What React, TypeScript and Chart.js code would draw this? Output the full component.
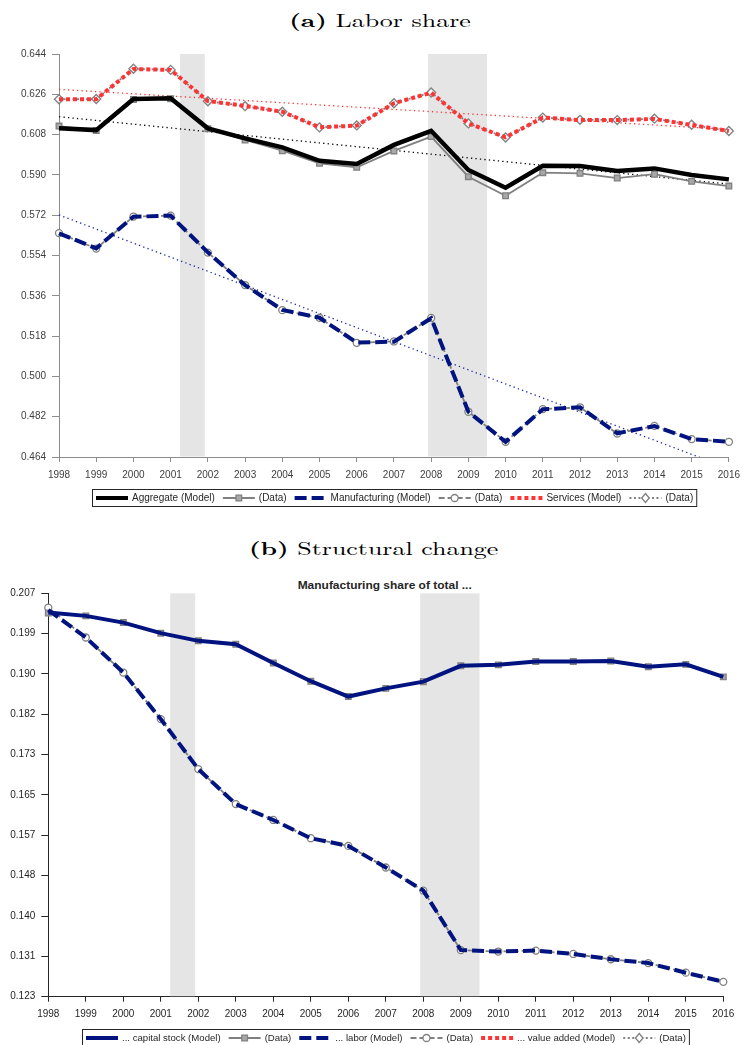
import React, { useEffect, useRef } from 'react';
import { Chart, registerables } from 'chart.js';

Chart.register(...registerables);

// ---------- data ----------
const years = [1998, 1999, 2000, 2001, 2002, 2003, 2004, 2005, 2006, 2007, 2008, 2009, 2010, 2011, 2012, 2013, 2014, 2015, 2016];

// (a) Labor share
const aggModel = [0.6108, 0.6100, 0.6239, 0.6242, 0.6108, 0.6063, 0.6023, 0.5963, 0.5949, 0.6034, 0.6097, 0.5922, 0.5843, 0.5941, 0.5940, 0.5917, 0.5929, 0.5900, 0.5880];
const aggData = [0.6118, 0.6098, 0.6237, 0.6240, 0.6106, 0.6056, 0.6008, 0.5952, 0.5934, 0.6007, 0.6071, 0.5892, 0.5807, 0.5910, 0.5907, 0.5886, 0.5903, 0.5871, 0.5850];
const manModel = [0.5639, 0.5572, 0.5713, 0.5718, 0.5554, 0.5408, 0.5297, 0.5262, 0.5151, 0.5155, 0.5260, 0.4842, 0.4708, 0.4853, 0.4862, 0.4746, 0.4778, 0.4720, 0.4708];
const manData = [0.5640, 0.5571, 0.5714, 0.5718, 0.5553, 0.5408, 0.5296, 0.5262, 0.5150, 0.5156, 0.5261, 0.4842, 0.4708, 0.4854, 0.4862, 0.4745, 0.4779, 0.4720, 0.4708];
const servModel = [0.6238, 0.6238, 0.6373, 0.6369, 0.6230, 0.6208, 0.6182, 0.6113, 0.6120, 0.6220, 0.6267, 0.6130, 0.6068, 0.6156, 0.6145, 0.6145, 0.6150, 0.6123, 0.6096];
const servData = [0.6238, 0.6239, 0.6374, 0.6369, 0.6229, 0.6207, 0.6182, 0.6112, 0.6121, 0.6220, 0.6268, 0.6130, 0.6067, 0.6156, 0.6146, 0.6145, 0.6151, 0.6124, 0.6096];
const trendYears = [1998, 2016];
const aggTrend = [0.6160, 0.5859];
const servTrend = [0.6282, 0.6103];
const manTrend = [0.5721, 0.4589];

// (b) Structural change
const capModel = [0.2030, 0.2023, 0.2009, 0.1987, 0.1971, 0.1964, 0.1925, 0.1887, 0.1855, 0.1872, 0.1886, 0.1919, 0.1921, 0.1928, 0.1928, 0.1929, 0.1917, 0.1922, 0.1896];
const capData = [0.2029, 0.2023, 0.2009, 0.1987, 0.1971, 0.1964, 0.1925, 0.1887, 0.1855, 0.1872, 0.1886, 0.1919, 0.1921, 0.1928, 0.1928, 0.1929, 0.1917, 0.1922, 0.1896];
const labModel = [0.2035, 0.1978, 0.1905, 0.1808, 0.1704, 0.1631, 0.1598, 0.1560, 0.1544, 0.1499, 0.1451, 0.1327, 0.1324, 0.1326, 0.1319, 0.1308, 0.1300, 0.1280, 0.1261];
const labData = [0.2040, 0.1978, 0.1905, 0.1808, 0.1704, 0.1631, 0.1598, 0.1560, 0.1544, 0.1499, 0.1451, 0.1327, 0.1324, 0.1326, 0.1319, 0.1308, 0.1300, 0.1280, 0.1261];
const vaModel: number[] = [];
const vaData: number[] = [];

// recessions (shaded)
const recessionStart = [2001.25, 2007.917];
const recessionEnd = [2001.917, 2009.5];

// ticks
const xTicks = years;
const yTicksA = [0.464, 0.482, 0.5, 0.518, 0.536, 0.554, 0.572, 0.59, 0.608, 0.626, 0.644];
const yTicksB = [0.123, 0.1314, 0.1398, 0.1482, 0.1566, 0.165, 0.1734, 0.1818, 0.1902, 0.1986, 0.207];

// ---------- styles ----------
const FONT = '"Liberation Sans", Arial, Helvetica, sans-serif';
const NAVY = '#00137f';
const RED = '#ff3333';
const GRAY = '#808080';

const pts = (xs: number[], ys: number[]) => xs.map((x, i) => ({ x, y: ys[i] }));

const shadePlugin = {
  id: 'shade',
  beforeDatasetsDraw(chart: any) {
    const { ctx, chartArea, scales } = chart;
    ctx.save();
    ctx.fillStyle = '#e5e5e5';
    recessionStart.forEach((s, i) => {
      const x0 = scales.x.getPixelForValue(s);
      const x1 = scales.x.getPixelForValue(recessionEnd[i]);
      ctx.fillRect(x0, chartArea.top, x1 - x0, chartArea.bottom - chartArea.top - 0.5);
    });
    ctx.restore();
  },
};

function drawMarker(ctx: CanvasRenderingContext2D, style: string, x: number, y: number, r: number, fill: string, stroke: string, lw: number) {
  ctx.save();
  ctx.setLineDash([]);
  ctx.fillStyle = fill;
  ctx.strokeStyle = stroke;
  ctx.lineWidth = lw;
  ctx.beginPath();
  if (style === 'rect') {
    const s = r * Math.SQRT1_2;
    ctx.rect(x - s, y - s, 2 * s, 2 * s);
  } else if (style === 'rectRot') {
    ctx.moveTo(x, y - r);
    ctx.lineTo(x + r * 0.85, y);
    ctx.lineTo(x, y + r);
    ctx.lineTo(x - r * 0.85, y);
    ctx.closePath();
  } else {
    ctx.arc(x, y, r, 0, Math.PI * 2);
  }
  ctx.fill();
  ctx.stroke();
  ctx.restore();
}

const boxLegendPlugin = {
  id: 'boxLegend',
  afterDraw(chart: any, _args: any, opts: any) {
    const { ctx, chartArea } = chart;
    const items = chart.data.datasets.filter((d: any) => d.inLegend);
    const size = opts.fontSize || 10;
    ctx.save();
    ctx.font = `${size}px ${FONT}`;
    const sampleW = opts.sampleW || 32;
    const gapS = opts.gapS || 4;
    const gapItem = opts.gapItem || 8;
    const pad = 3.5;
    const widths = items.map((d: any) => ctx.measureText(d.label).width);
    let total = pad * 2;
    widths.forEach((w: number, i: number) => {
      total += sampleW + gapS + w + (i > 0 ? gapItem : 0);
    });
    const cx = (chartArea.left + chartArea.right) / 2;
    const x0 = Math.round(cx - total / 2) + 0.5;
    const y0 = opts.top + 0.5;
    const h = 17;
    ctx.fillStyle = '#ffffff';
    ctx.fillRect(x0, y0, total, h);
    ctx.strokeStyle = '#262626';
    ctx.lineWidth = 1;
    ctx.strokeRect(x0, y0, total, h);
    const cy = y0 + h / 2;
    let x = x0 + pad;
    items.forEach((d: any, i: number) => {
      if (i > 0) x += gapItem;
      ctx.save();
      ctx.strokeStyle = d.borderColor;
      ctx.lineWidth = Math.min(d.borderWidth, 4);
      ctx.setLineDash(d.borderDash || []);
      ctx.beginPath();
      ctx.moveTo(x, cy);
      ctx.lineTo(x + sampleW, cy);
      ctx.stroke();
      ctx.restore();
      if (d.pointRadius > 0) {
        drawMarker(ctx, d.pointStyle, x + sampleW / 2, cy, d.pointRadius, d.pointBackgroundColor, d.pointBorderColor, d.pointBorderWidth);
      }
      x += sampleW + gapS;
      ctx.fillStyle = '#262626';
      ctx.textBaseline = 'middle';
      ctx.textAlign = 'left';
      ctx.fillText(d.label, x, cy + 0.5);
      x += widths[i];
    });
    ctx.restore();
  },
};

const modelLine = (label: string, data: number[], color: string, width: number, dash: number[]) => ({
  label,
  data: pts(years, data),
  borderColor: color,
  backgroundColor: color,
  borderWidth: width,
  borderDash: dash,
  pointRadius: 0,
  pointHoverRadius: 0,
  tension: 0,
  fill: false,
  order: 1,
  clip: 8,
  inLegend: true,
});

const dataLine = (data: number[], dash: number[], style: string, radius: number, fill: string) => ({
  label: '(Data)',
  data: pts(years, data),
  borderColor: GRAY,
  backgroundColor: GRAY,
  borderWidth: 1.8,
  borderDash: dash,
  pointStyle: style,
  pointRadius: radius,
  pointHoverRadius: radius,
  pointBorderColor: GRAY,
  pointBackgroundColor: fill,
  pointBorderWidth: 1.3,
  tension: 0,
  fill: false,
  order: 2,
  clip: 8,
  inLegend: true,
});

const trendLine = (data: number[], color: string) => ({
  label: 'trend',
  data: pts(trendYears, data),
  borderColor: color,
  borderWidth: 1.3,
  borderDash: [1.3, 3.2],
  pointRadius: 0,
  pointHoverRadius: 0,
  tension: 0,
  fill: false,
  order: 3,
  inLegend: false,
});

function makeOptions(yMin: number, yMax: number, yTicks: number[], yWidth: number, padding: any, axisColor: string, labelColor: string, legendTop: number, legendFont: number) {
  return {
    responsive: false,
    animation: false,
    devicePixelRatio: 1,
    layout: { padding },
    events: [],
    plugins: {
      legend: { display: false },
      tooltip: { enabled: false },
      title: { display: false },
      boxLegend: { top: legendTop, fontSize: legendFont },
    },
    scales: {
      x: {
        type: 'linear',
        min: 1998,
        max: 2016,
        afterBuildTicks: (s: any) => {
          s.ticks = xTicks.map((v) => ({ value: v }));
        },
        afterFit: (s: any) => {
          s.height = 30;
        },
        ticks: {
          callback: (v: any) => String(v),
          autoSkip: false,
          maxRotation: 0,
          padding: 7,
          color: labelColor,
          font: { family: FONT, size: 10 },
        },
        grid: { display: true, drawOnChartArea: false, drawTicks: true, tickLength: 5, color: axisColor, tickColor: axisColor },
        border: { display: true, color: axisColor, width: 1 },
      },
      y: {
        type: 'linear',
        min: yMin,
        max: yMax,
        afterBuildTicks: (s: any) => {
          s.ticks = yTicks.map((v) => ({ value: v }));
        },
        afterFit: (s: any) => {
          s.width = yWidth;
        },
        ticks: {
          callback: (v: any) => Number(v).toFixed(3),
          autoSkip: false,
          padding: 6,
          color: labelColor,
          font: { family: FONT, size: 10 },
        },
        grid: { display: true, drawOnChartArea: false, drawTicks: true, tickLength: 7, color: axisColor, tickColor: axisColor },
        border: { display: true, color: axisColor, width: 1 },
      },
    },
  };
}

export default function App() {
  const topRef = useRef<HTMLCanvasElement | null>(null);
  const botRef = useRef<HTMLCanvasElement | null>(null);

  useEffect(() => {
    const top = new Chart(topRef.current as HTMLCanvasElement, {
      type: 'line',
      data: {
        datasets: [
          modelLine('Aggregate (Model)', aggModel, '#000000', 4.5, []),
          dataLine(aggData, [], 'rect', 4, '#a8a8a8'),
          modelLine('Manufacturing (Model)', manModel, NAVY, 4, [12, 5]),
          dataLine(manData, [6, 3], 'circle', 3.5, '#ffffff'),
          modelLine('Services (Model)', servModel, RED, 4, [4, 3]),
          dataLine(servData, [2, 2.5], 'rectRot', 4.5, '#ffffff'),
          trendLine(aggTrend, '#000000'),
          trendLine(servTrend, RED),
          trendLine(manTrend, '#1a2aa0'),
        ] as any,
      },
      options: makeOptions(0.464, 0.644, yTicksA, 59, { top: 14, right: 13.3, bottom: 33, left: 0 }, '#8c8c8c', '#404040', 449, 10) as any,
      plugins: [shadePlugin, boxLegendPlugin],
    });

    const bot = new Chart(botRef.current as HTMLCanvasElement, {
      type: 'line',
      data: {
        datasets: [
          modelLine('... capital stock (Model)', capModel, NAVY, 4, []),
          dataLine(capData, [], 'rect', 4, '#a8a8a8'),
          modelLine('... labor (Model)', labModel, NAVY, 4, [12, 5]),
          dataLine(labData, [6, 3], 'circle', 3.5, '#ffffff'),
          modelLine('... value added (Model)', vaModel, RED, 4, [4, 3]),
          dataLine(vaData, [2, 2.5], 'rectRot', 4.5, '#ffffff'),
        ] as any,
      },
      options: makeOptions(0.123, 0.207, yTicksB, 48.3, { top: 18.3, right: 23.7, bottom: 18.3, left: 0 }, '#262626', '#262626', 454, 9.6) as any,
      plugins: [shadePlugin, boxLegendPlugin],
    });

    return () => {
      top.destroy();
      bot.destroy();
    };
  }, []);

  const serif = '"Latin Modern Roman", "CMU Serif", "DejaVu Serif", serif';
  const titleSpan = { display: 'inline-block', transform: 'scaleX(1.44)', transformOrigin: 'center' } as const;

  return (
    <div style={{ position: 'absolute', left: 0, top: 0, width: 747, height: 1045, background: '#ffffff', overflow: 'hidden' }}>
      <div style={{ position: 'absolute', left: 0, width: 760, top: 8, textAlign: 'center', fontFamily: serif, fontSize: 18, lineHeight: '24px', color: '#000' }}>
        <span style={titleSpan}>
          <b>(a)</b> Labor share
        </span>
      </div>
      <canvas ref={topRef} width={747} height={480} style={{ position: 'absolute', left: 0, top: 40, width: 747, height: 480 }} />
      <div style={{ position: 'absolute', left: 0, width: 748, top: 536, textAlign: 'center', fontFamily: serif, fontSize: 18, lineHeight: '24px', color: '#000' }}>
        <span style={titleSpan}>
          <b>(b)</b> Structural change
        </span>
      </div>
      <div style={{ position: 'absolute', left: 0, width: 770, top: 578, textAlign: 'center', fontFamily: FONT, fontWeight: 'bold', fontSize: 11.5, lineHeight: '14px', color: '#262626' }}>
        <span style={{ display: 'inline-block', transform: 'scaleX(1.04)', transformOrigin: 'center' }}>Manufacturing share of total ...</span>
      </div>
      <canvas ref={botRef} width={747} height={470} style={{ position: 'absolute', left: 0, top: 575, width: 747, height: 470 }} />
    </div>
  );
}
